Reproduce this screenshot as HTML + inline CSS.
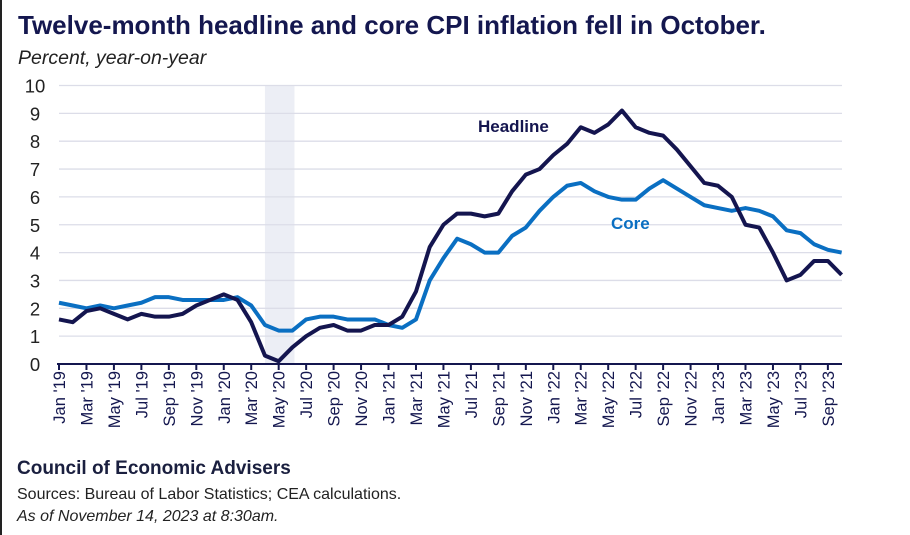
<!DOCTYPE html>
<html><head><meta charset="utf-8"><style>
body{margin:0;background:#fff;width:910px;height:535px;overflow:hidden;font-family:"Liberation Sans",sans-serif;}
#wrap{position:relative;width:910px;height:535px;border-left:2px solid #222;box-sizing:border-box;}
.t{position:absolute;white-space:nowrap;}
</style></head><body>
<div id="wrap">
<div class="t" style="left:16px;top:10px;font-size:26px;font-weight:bold;color:#14174f;">Twelve-month headline and core CPI inflation fell in October.</div>
<div class="t" style="left:16px;top:47px;font-size:19.5px;font-style:italic;color:#222;">Percent, year-on-year</div>
<svg id="chart" width="910" height="535" style="position:absolute;left:-2px;top:0"></svg>
<div class="t" style="left:15px;top:458px;font-size:19px;font-weight:bold;color:#1a1f3f;">Council of Economic Advisers</div>
<div class="t" style="left:15px;top:486px;font-size:16px;color:#222;">Sources: Bureau of Labor Statistics; CEA calculations.</div>
<div class="t" style="left:15px;top:508px;font-size:16px;font-style:italic;color:#222;">As of November 14, 2023 at 8:30am.</div>
</div>
<script>
const months=["Jan","Feb","Mar","Apr","May","Jun","Jul","Aug","Sep","Oct","Nov","Dec"];
const headline=[1.6,1.5,1.9,2.0,1.8,1.6,1.8,1.7,1.7,1.8,2.1,2.3,
2.5,2.3,1.5,0.3,0.1,0.6,1.0,1.3,1.4,1.2,1.2,1.4,
1.4,1.7,2.6,4.2,5.0,5.4,5.4,5.3,5.4,6.2,6.8,7.0,
7.5,7.9,8.5,8.3,8.6,9.1,8.5,8.3,8.2,7.7,7.1,6.5,
6.4,6.0,5.0,4.9,4.0,3.0,3.2,3.7,3.7,3.2];
const core=[2.2,2.1,2.0,2.1,2.0,2.1,2.2,2.4,2.4,2.3,2.3,2.3,
2.3,2.4,2.1,1.4,1.2,1.2,1.6,1.7,1.7,1.6,1.6,1.6,
1.4,1.3,1.6,3.0,3.8,4.5,4.3,4.0,4.0,4.6,4.9,5.5,
6.0,6.4,6.5,6.2,6.0,5.9,5.9,6.3,6.6,6.3,6.0,5.7,
5.6,5.5,5.6,5.5,5.3,4.8,4.7,4.3,4.1,4.0];
const yTicks=[0,1,2,3,4,5,6,7,8,9,10];
const recession=[15,17.15];
const NS="http://www.w3.org/2000/svg";
const svg=document.getElementById('chart');
const x=i=>59+i*13.73;
const y=v=>364-v*27.85;
function mk(tag,attrs){const e=document.createElementNS(NS,tag);for(const k in attrs)e.setAttribute(k,attrs[k]);svg.appendChild(e);return e;}
const sh=mk('rect',{x:x(recession[0]),y:y(10),width:x(recession[1])-x(recession[0]),height:y(0)-y(10),fill:'#eceef5'});


yTicks.forEach(v=>{
 if(v>0){const g=mk('line',{x1:59,x2:842,y1:y(v),y2:y(v),stroke:'#dcdde8','stroke-width':1.3});
 
 }
 const t=mk('text',{x:35,y:y(v)+7,'text-anchor':'middle','font-size':18.5,fill:'#222','font-family':'Liberation Sans, sans-serif'});
 t.textContent=v;
 
 
});
const ax=mk('line',{x1:57,x2:842,y1:y(0),y2:y(0),stroke:'#14174f','stroke-width':2});


for(let i=0;i<headline.length;i+=2){
 const tk=mk('line',{x1:x(i),x2:x(i),y1:y(0),y2:y(0)+6,stroke:'#14174f','stroke-width':2});
 
 
 const yr=19+Math.floor(i/12);
 const t=mk('text',{transform:`translate(${x(i)+6},371) rotate(-90)`,'text-anchor':'end','font-size':16.5,fill:'#14174f','font-family':'Liberation Sans, sans-serif'});
 t.textContent=months[i%12]+" '"+yr;
 
 
}
function line(d,color,name){
 const p=mk('path',{d:d.map((v,i)=>(i?'L':'M')+x(i)+','+y(v)).join(''),fill:'none',stroke:color,'stroke-width':4,'stroke-linejoin':'round'});
 
 
}
line(core,'#0a6fc2','core-line');
line(headline,'#14154f','headline-line');
const l1=mk('text',{x:478,y:132,'font-size':17,'font-weight':'bold',fill:'#14154f','font-family':'Liberation Sans, sans-serif'});
l1.textContent='Headline';


const l2=mk('text',{x:611,y:229,'font-size':17,'font-weight':'bold',fill:'#0a6fc2','font-family':'Liberation Sans, sans-serif'});
l2.textContent='Core';


</script>
</body></html>
